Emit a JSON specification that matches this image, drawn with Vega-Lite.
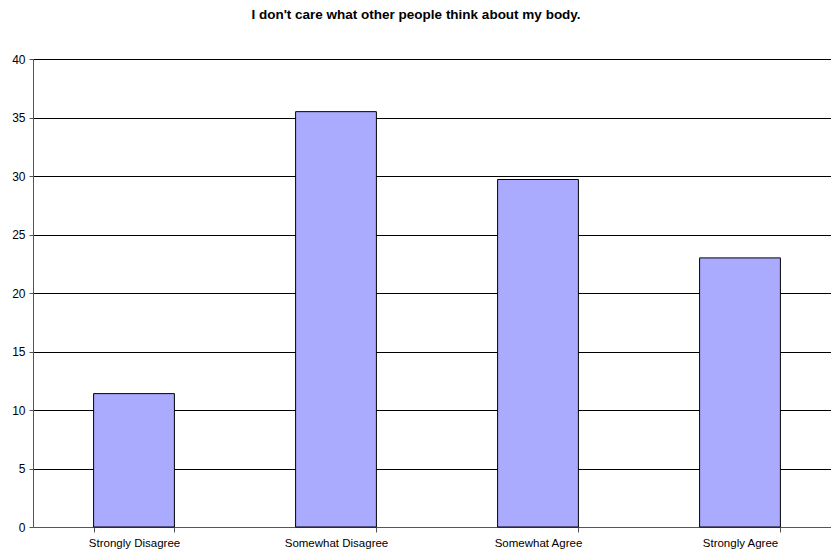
{
  "$schema": "https://vega.github.io/schema/vega-lite/v6.json",
  "autosize": {"type": "none"},
  "width": 808,
  "height": 468,
  "padding": {"left": 33, "top": 59, "right": 0, "bottom": 27},
  "background": "white",
  "title": {
    "text": "I don't care what other people think about my body.",
    "font": "Liberation Sans",
    "fontSize": 13.5,
    "fontWeight": "bold",
    "color": "#000000",
    "anchor": "middle",
    "offset": 32,
    "dx": -21
  },
  "data": {
    "values": [
      {"response": "Strongly Disagree", "percent": 11.4},
      {"response": "Somewhat Disagree", "percent": 35.5},
      {"response": "Somewhat Agree", "percent": 29.7},
      {"response": "Strongly Agree", "percent": 23.0}
    ]
  },
  "mark": {"type": "bar", "fill": "#AAAAFF", "stroke": "#000000", "strokeWidth": 1},
  "encoding": {
    "x": {
      "field": "response",
      "type": "nominal",
      "sort": null,
      "scale": {"paddingInner": 0.6, "paddingOuter": 0.3},
      "axis": {
        "title": null,
        "labelAngle": 0,
        "labelFont": "Liberation Sans",
        "labelFontSize": 11.5,
        "labelColor": "#000000",
        "labelPadding": 5,
        "domainColor": "#555555",
        "tickColor": "#555555",
        "tickSize": 5,
        "tickBand": "extent",
        "grid": false
      }
    },
    "y": {
      "field": "percent",
      "type": "quantitative",
      "scale": {"domain": [0, 40], "nice": false},
      "axis": {
        "title": null,
        "values": [0, 5, 10, 15, 20, 25, 30, 35, 40],
        "labelFont": "Liberation Sans",
        "labelFontSize": 12,
        "labelColor": "#000000",
        "labelPadding": 4,
        "domainColor": "#555555",
        "tickColor": "#555555",
        "tickSize": 4,
        "grid": true,
        "gridColor": "#000000",
        "gridOpacity": 1,
        "gridWidth": 1
      }
    }
  },
  "config": {"view": {"stroke": null}}
}
